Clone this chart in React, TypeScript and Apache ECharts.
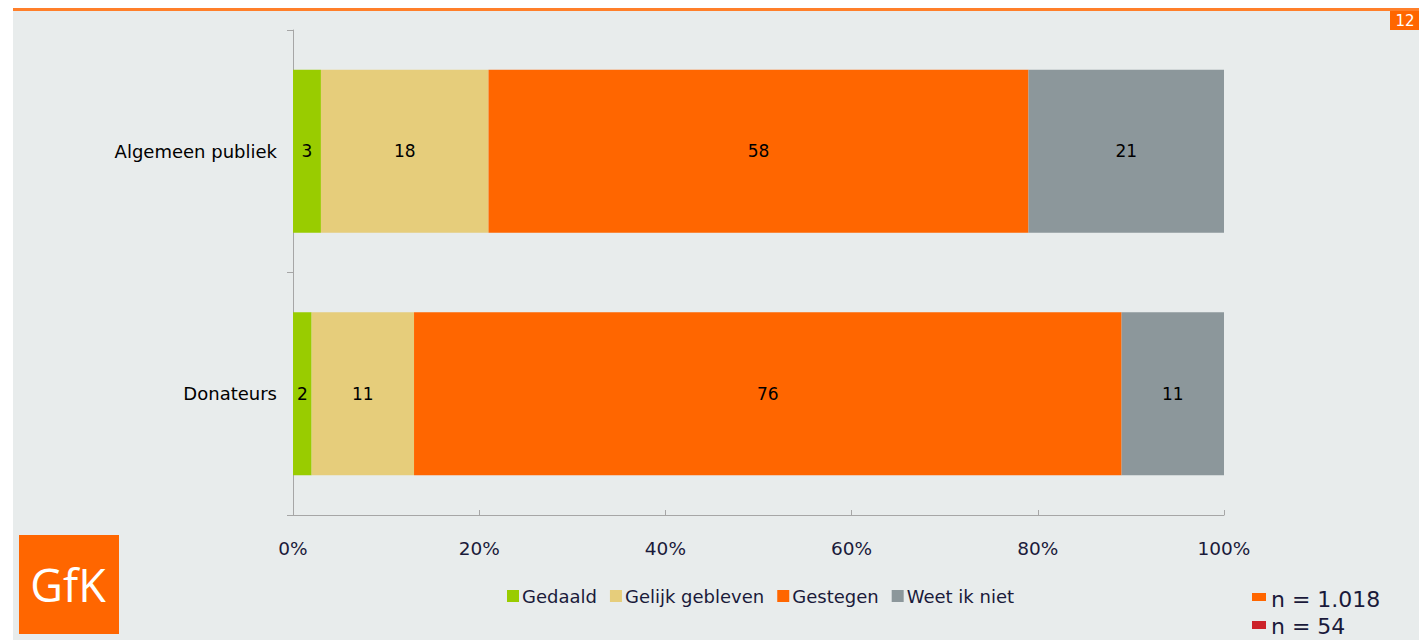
import React, { useEffect, useRef } from "react";
import * as echarts from "echarts";

const categories = ["Algemeen publiek", "Donateurs"];
const seriesNames = ["Gedaald", "Gelijk gebleven", "Gestegen", "Weet ik niet"];
const gedaald = [3, 2];
const gelijk = [18, 11];
const gestegen = [58, 76];
const weetNiet = [21, 11];
const xTicks = [0, 20, 40, 60, 80, 100];
const colors = ["#99cc00", "#e6cd7b", "#ff6600", "#8c979b"];
const sampleNotes = ["n = 1.018", "n = 54"];
const sampleColors = ["#ff6600", "#cc2229"];
const pageNumber = "12";

export default function App() {
  const ref = useRef<HTMLDivElement>(null);
  useEffect(() => {
    document.body.style.margin = "0";
    const chart = echarts.init(ref.current!, null, { renderer: "svg" });
    const values = [gedaald, gelijk, gestegen, weetNiet];
    const font = "DejaVu Sans";
    chart.setOption({
      animation: false,
      backgroundColor: "#ffffff",
      textStyle: { fontFamily: font },
      grid: { left: 293, right: 195, top: 30, bottom: 125, containLabel: false },
      xAxis: {
        type: "value",
        min: xTicks[0],
        max: xTicks[xTicks.length - 1],
        interval: 20,
        axisLine: { show: true, lineStyle: { color: "#a6a6a6", width: 1 } },
        axisTick: { show: true, inside: true, length: 5, lineStyle: { color: "#a6a6a6" } },
        splitLine: { show: false },
        axisLabel: { formatter: "{value}%", color: "#1a1a3a", fontSize: 18.5, margin: 24, fontFamily: font },
      },
      yAxis: {
        type: "category",
        data: categories,
        inverse: true,
        axisLine: { show: true, lineStyle: { color: "#a6a6a6", width: 1 } },
        axisTick: { show: true, length: 6, lineStyle: { color: "#a6a6a6" } },
        axisLabel: { color: "#000000", fontSize: 18, margin: 16, fontFamily: font },
      },
      legend: {
        data: seriesNames,
        left: 502,
        top: 582,
        itemWidth: 12,
        itemHeight: 12,
        itemGap: 13,
        icon: "rect",
        textStyle: { color: "#1a1a3a", fontSize: 18, fontFamily: font, padding: [0, 0, 0, -2] },
      },
      series: seriesNames.map((name, i) => ({
        name,
        type: "bar",
        stack: "total",
        barWidth: 163,
        data: values[i],
        itemStyle: { color: colors[i] },
        label: { show: true, position: "inside", color: "#000000", fontSize: 17, fontFamily: font },
      })),
      graphic: [
        { type: "rect", shape: { x: 13, y: 11, width: 1406, height: 629 }, style: { fill: "#e8ecec" }, z: -10 },
        { type: "rect", shape: { x: 13, y: 8, width: 1406, height: 3 }, style: { fill: "#ff7f2a" }, z: -9 },
        { type: "rect", shape: { x: 1390, y: 11, width: 29, height: 19 }, style: { fill: "#ff6600" } },
        { type: "text", x: 1405, y: 21, style: { text: pageNumber, fill: "#ffffff", fontSize: 15, fontFamily: font, align: "center", verticalAlign: "middle" } },
        { type: "rect", shape: { x: 19, y: 535, width: 100, height: 99 }, style: { fill: "#ff6600" } },
        { type: "text", x: 68, y: 584, style: { text: "GfK", fill: "#ffffff", fontSize: 45, fontFamily: "Open Sans", align: "center", verticalAlign: "middle" } },
        { type: "rect", shape: { x: 1252, y: 593, width: 14, height: 8 }, style: { fill: sampleColors[0] } },
        { type: "text", x: 1271, y: 599, style: { text: sampleNotes[0], fill: "#1a1a3a", fontSize: 22, fontFamily: font, verticalAlign: "middle" } },
        { type: "rect", shape: { x: 1252, y: 621, width: 14, height: 8 }, style: { fill: sampleColors[1] } },
        { type: "text", x: 1271, y: 626, style: { text: sampleNotes[1], fill: "#1a1a3a", fontSize: 22, fontFamily: font, verticalAlign: "middle" } },
      ],
    });
    return () => chart.dispose();
  }, []);
  return <div ref={ref} style={{ position: "fixed", left: 0, top: 0, width: 1419, height: 640 }} />;
}
